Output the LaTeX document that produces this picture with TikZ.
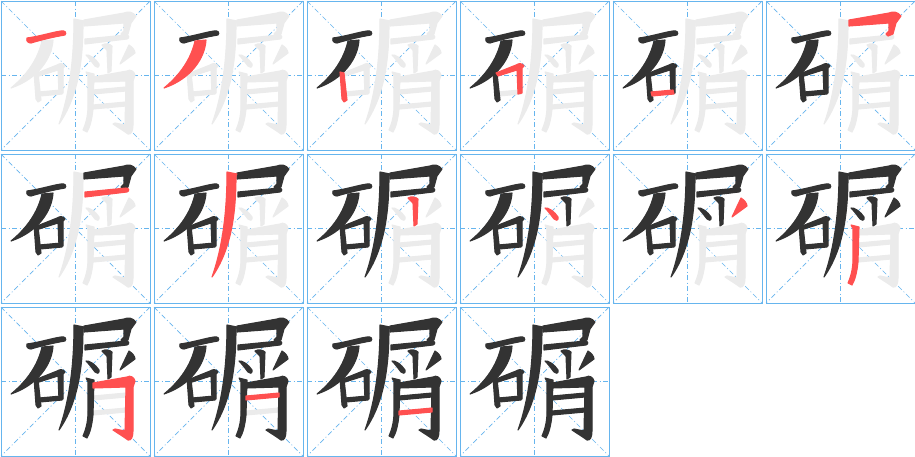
\documentclass[tikz,border=0pt]{standalone}
\definecolor{ink}{HTML}{333333}
\definecolor{hot}{HTML}{FF5050}
\definecolor{ghost}{HTML}{EBEBEB}
\definecolor{guide}{HTML}{66B5EE}
\tikzset{
  panelbox/.style={draw=guide, line width=1pt},
  guideline/.style={draw=guide, line width=0.7pt, dash pattern=on 5pt off 2.5pt on 1pt off 2.5pt},
  pen/.style={fill=#1, draw=#1, line width=1.1pt, line join=round},
}
\newcommand\stk[2]{\ifcase#1\or
% 1 shi heng
\path[pen=#2] (26,37) .. controls (40,35) and (52,31) .. (60,30) .. controls (64,29) and (66,32) .. (64,34) .. controls (52,36) and (40,39) .. (30,42) .. controls (27,42) and (25,40) .. (26,37) -- cycle;
\or % 2 shi pie
\path[pen=#2] (41,40) -- (52,39) .. controls (51,57) and (37,78) .. (10,87) .. controls (26,74) and (37,58) .. (41,40) -- cycle;
\or % 3 kou shu
\path[pen=#2] (33,71) -- (37,72) -- (40,99) -- (37,101) -- (35,98) -- cycle;
\or % 4 kou hengzhe
\path[pen=#2] (36,72) -- (56,64) .. controls (59,62) and (62,62) .. (64,65) -- (62,67) -- (62,92) -- (58,93) -- (57,69) -- (38,75) -- cycle;
\or % 5 kou heng
\path[pen=#2] (38,91) -- (60,89) -- (61,93) -- (39,95) -- cycle;
\or % 6 shi hengzhe
\path[pen=#2] (83,19) -- (123,12) .. controls (127,10) and (132,11) .. (135,15) -- (130,22) -- (127,33) -- (122,35) -- (120,33) -- (123,30) -- (123,22) -- (83,25) -- cycle;
\or % 7 shi heng
\path[pen=#2] (84,38) -- (125,34) .. controls (128,34) and (129,37) .. (126,38) -- (84,43) -- cycle;
\or % 8 shi pie
\path[pen=#2] (73,18) -- (83,20) -- (82,22) .. controls (82,60) and (77,96) .. (58,123) .. controls (68,95) and (73,60) .. (73,18) -- cycle;
\or % 9 xiao shu
\path[pen=#2] (101,44) .. controls (104,42) and (109,43) .. (111,45) -- (110,70) -- (107,72) -- (106,49) -- cycle;
\or % 10 xiao left dot
\path[pen=#2] (85,54) .. controls (88,53) and (95,58) .. (98,63) .. controls (99,67) and (95,67) .. (94,65) .. controls (91,61) and (88,57) .. (85,54) -- cycle;
\or % 11 xiao right dot
\path[pen=#2] (128,44) .. controls (131,46) and (134,49) .. (134,52) -- (119,63) -- cycle;
\or % 12 yue pie
\path[pen=#2] (85,71) -- (93,73) -- (92,108) .. controls (91,118) and (89,126) .. (86,131) -- (82,129) .. controls (86,120) and (87,112) .. (87,104) -- (87,75) -- cycle;
\or % 13 yue hengzhegou
\path[pen=#2] (92,76) -- (126,70) .. controls (129,68) and (133,70) .. (134,74) -- (132,80) -- (132,124) .. controls (132,130) and (130,134) .. (127,133) .. controls (123,130) and (118,127) .. (112,123) -- (114,122) -- (124,124) -- (125,80) -- (92,81) -- cycle;
\or % 14 yue heng
\path[pen=#2] (92,89) -- (125,86) -- (125,90) -- (92,93) -- cycle;
\or % 15 yue heng
\path[pen=#2] (92,104) -- (125,101) -- (125,105) -- (92,108) -- cycle;
\fi}
\begin{document}
\begin{tikzpicture}[x=1pt,y=-1pt]
\useasboundingbox[fill=white] (0,0) rectangle (915,456);
\foreach \k in {1,...,16}{
  \pgfmathtruncatemacro\cc{mod(\k-1,6)}
  \pgfmathtruncatemacro\rr{(\k-1)/6}
  \begin{scope}[shift={(1+153*\cc,1+153*\rr)}]
    \draw[guideline] (74.5,0) -- (74.5,149);
    \draw[guideline] (0,74.5) -- (149,74.5);
    \draw[guideline] (0,0) -- (149,149);
    \draw[guideline] (149,0) -- (0,149);
    \draw[panelbox] (0,0) rectangle (149,149);
    \foreach \j in {1,...,15}{\ifnum\j>\k \stk{\j}{ghost}\fi}
    \foreach \j in {1,...,15}{\ifnum\j<\k \stk{\j}{ink}\fi}
    \foreach \j in {1,...,15}{\ifnum\j=\k \stk{\j}{hot}\fi}
  \end{scope}
}
\end{tikzpicture}
\end{document}
